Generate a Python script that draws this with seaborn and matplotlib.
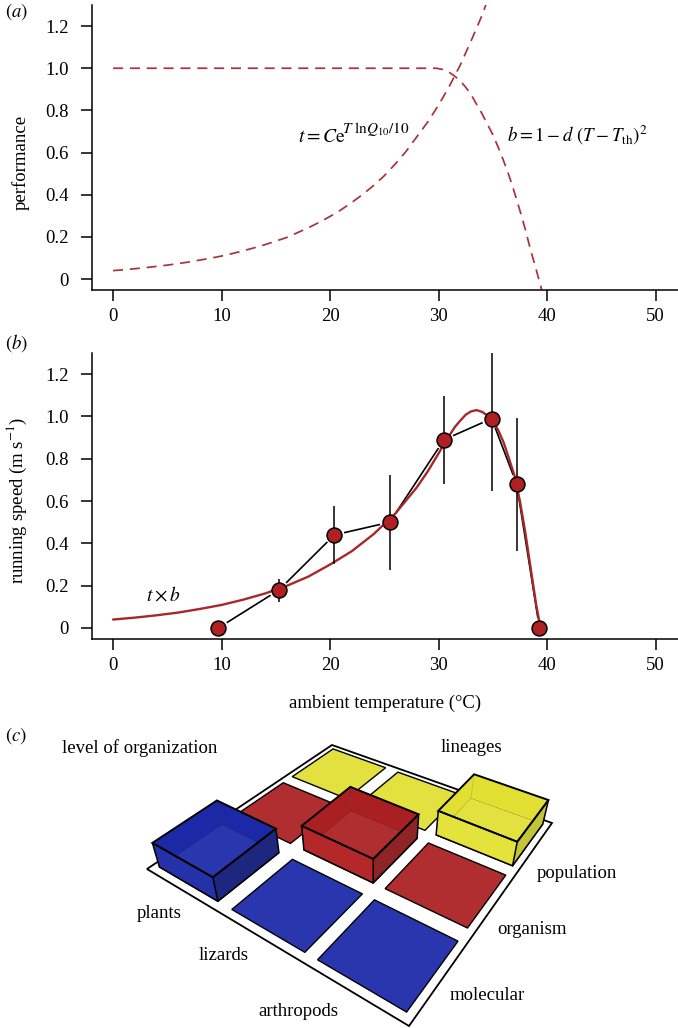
import numpy as np
import pandas as pd
import matplotlib
matplotlib.use('Agg')
import matplotlib.pyplot as plt
from matplotlib.patches import Polygon
import seaborn as sns

# curves
t_temp = list(range(0, 36))
t_perf = [0.040, 0.044, 0.049, 0.054, 0.060, 0.066, 0.073, 0.081, 0.090, 0.099,
          0.109, 0.121, 0.134, 0.148, 0.163, 0.180, 0.197, 0.220, 0.243, 0.269,
          0.297, 0.328, 0.363, 0.401, 0.443, 0.490, 0.545, 0.605, 0.675, 0.745,
          0.825, 0.915, 1.015, 1.13, 1.25, 1.39]
b_temp = [0, 10, 20, 29, 29.8, 30.5, 31, 31.5, 32, 32.5, 33, 33.5, 34, 34.5, 35, 35.5,
          36, 36.5, 37, 37.5, 38, 38.5, 39, 39.5]
b_perf = [1.0, 1.0, 1.0, 1.0, 1.0, 0.993, 0.98, 0.962, 0.94, 0.91, 0.875, 0.83, 0.785,
          0.735, 0.685, 0.625, 0.56, 0.49, 0.41, 0.325, 0.235, 0.135, 0.045, -0.05]
fit_temp = [0, 2, 4, 6, 8, 10, 12, 14, 16, 18, 20, 22, 24, 26, 28, 29, 30, 30.5, 31, 31.5,
            32, 32.5, 33, 33.5, 34, 34.5, 35, 35.5, 36, 36.5, 37, 37.5, 38, 38.5, 39, 39.4]
fit_speed = [0.04, 0.049, 0.06, 0.073, 0.09, 0.109, 0.134, 0.163, 0.199, 0.243, 0.30, 0.363,
             0.443, 0.54, 0.665, 0.74, 0.825, 0.87, 0.91, 0.95, 0.98, 1.008, 1.024, 1.03,
             1.022, 1.005, 0.98, 0.935, 0.877, 0.80, 0.72, 0.60, 0.45, 0.28, 0.11, 0.0]

# running speed
obs_temp = [9.7, 15.3, 20.4, 25.5, 30.5, 34.9, 37.2, 39.3]
obs_speed = [0.0, 0.18, 0.44, 0.50, 0.89, 0.99, 0.68, 0.0]
obs_low = [0.0, 0.125, 0.303, 0.275, 0.682, 0.646, 0.362, 0.0]
obs_high = [0.0, 0.232, 0.575, 0.722, 1.096, 1.30, 0.995, 0.0]

# panel c
levels = ['molecular', 'organism', 'population']
lineages = ['plants', 'lizards', 'arthropods']
level_colours = ['#2a36ad', '#b02e2f', '#e2e13f']
back_colours = ['#1c29a6', '#aa2022', '#e0df32']
front_colours = ['#2431a8', '#b4282a', '#e4e33c']
side_colours = ['#1d2780', '#8e2426', '#c4c438']
box_cells = [(2, 2), (1, 1), (0, 0)]  # (level, lineage), back to front

x_ticks = [0, 10, 20, 30, 40, 50]
y_ticks = [0, 0.2, 0.4, 0.6, 0.8, 1.0, 1.2]
y_tick_labels = ['0', '0.2', '0.4', '0.6', '0.8', '1.0', '1.2']

sns.set_style('ticks')
plt.rcParams['font.family'] = ['Liberation Serif', 'DejaVu Serif']
plt.rcParams['mathtext.fontset'] = 'stix'
plt.rcParams['text.color'] = 'black'
plt.rcParams['axes.labelcolor'] = 'black'
plt.rcParams['xtick.color'] = 'black'
plt.rcParams['ytick.color'] = 'black'

W, H = 678, 1028
fs = 13.5
fig = plt.figure(figsize=(W / 100, H / 100), dpi=100)


def make_axes(top, bottom):
    # pixel box -> figure fraction
    ax = fig.add_axes([92 / W, 1 - bottom / H, (W - 92) / W, (bottom - top) / H])
    ax.set_xlim(-1.94, 52.07)
    ax.set_ylim(-0.052, 1.3)
    ax.set_xticks(x_ticks)
    ax.set_yticks(y_ticks)
    ax.set_yticklabels(y_tick_labels)
    ax.tick_params(length=8, width=1.1, labelsize=fs)
    ax.tick_params(axis='y', pad=8.5)
    ax.tick_params(axis='x', pad=5)
    for s in ['left', 'bottom']:
        ax.spines[s].set_linewidth(1.1)
        ax.spines[s].set_color('black')
    sns.despine(ax=ax)
    return ax


ax_a = make_axes(5, 290)
ax_b = make_axes(353, 639)

dash_col = '#a8343a'
dash_style = (0, (5.8, 3.9))
sns.lineplot(x=t_temp, y=t_perf, ax=ax_a, color=dash_col, lw=1.25, linestyle=dash_style, sort=False)
sns.lineplot(x=b_temp, y=b_perf, ax=ax_a, color=dash_col, lw=1.25, linestyle=dash_style, sort=False)
ax_a.set_ylabel('performance', fontsize=fs)
ax_a.yaxis.set_label_coords(-0.107, 0.446)

obs = pd.DataFrame({'temp': obs_temp, 'speed': obs_speed})
sns.lineplot(data=obs, x='temp', y='speed', ax=ax_b, color='black', lw=1.2, zorder=2)
# white ring gives the gap between line and marker
sns.scatterplot(data=obs, x='temp', y='speed', ax=ax_b, s=205, color='white', edgecolor='none', zorder=3, clip_on=False)
sns.lineplot(x=fit_temp, y=fit_speed, ax=ax_b, color='#a8272d', lw=1.7, zorder=4, sort=False)
ax_b.vlines(obs_temp, obs_low, obs_high, color='black', lw=1.1, zorder=5)
sns.scatterplot(data=obs, x='temp', y='speed', ax=ax_b, s=115, color='#b02023', edgecolor='black', linewidth=1.1, zorder=6, clip_on=False)
ax_b.set_ylabel('running speed (m s$^{-1}$)', fontsize=fs)
ax_b.yaxis.set_label_coords(-0.107, 0.486)
ax_b.set_xlabel('ambient temperature (°C)', fontsize=fs, labelpad=15)

# overlay in pixel coordinates for the letters and the board
ov = fig.add_axes([0, 0, 1, 1])
ov.set_xlim(0, W)
ov.set_ylim(H, 0)
ov.axis('off')
ov.patch.set_alpha(0)

ov.text(5, 12, '$(a)$', fontsize=fs, va='center')
ov.text(5, 343, '$(b)$', fontsize=fs, va='center')
ov.text(5, 736, '$(c)$', fontsize=fs, va='center')
ov.text(298, 137, r'$t = C\mathrm{e}$', fontsize=14, va='center')
ov.text(342, 129, r'$T\ \mathrm{ln}Q_{10}/10$', fontsize=11, va='center')
ov.text(507, 135, r'$b = 1 - d\ (T - T_{\mathrm{th}})^2$', fontsize=fs, va='center')
ov.text(146, 595, r'$t \times b$', fontsize=14, va='center')

# floor plane: unit square -> board corners
board = np.array([[147, 869], [409, 1026], [552, 823], [332, 745]], dtype=float)
unit = np.array([[0, 0], [1, 0], [1, 1], [0, 1]], dtype=float)
A, rhs = [], []
for (u, v), (px, py) in zip(unit, board):
    A.append([u, v, 1, 0, 0, 0, -u * px, -v * px])
    A.append([0, 0, 0, u, v, 1, -u * py, -v * py])
    rhs += [px, py]
hom = np.append(np.linalg.solve(np.array(A), np.array(rhs)), 1).reshape(3, 3)


def floor(u, v):
    p = hom @ np.array([u, v, 1.0])
    return p[:2] / p[2]


def lift(p):
    return p + np.array([0.033 * (p[0] - 371), -24.0])


u_edges = [(0.025, 0.30), (0.36, 0.645), (0.69, 0.975)]
v_edges = [(0.03, 0.31), (0.37, 0.645), (0.70, 0.975)]


def cell_corners(level, lineage):
    u0, u1 = u_edges[lineage]
    v0, v1 = v_edges[level]
    # left, front, right, back as seen on the page
    return [floor(u0, v0), floor(u1, v0), floor(u1, v1), floor(u0, v1)]


ov.add_patch(Polygon(board, closed=True, fc='white', ec='black', lw=1.3, zorder=1))
for i in range(len(levels)):
    for j in range(len(lineages)):
        ov.add_patch(Polygon(cell_corners(i, j), closed=True, fc=level_colours[i], ec='black', lw=1.0, zorder=2))

z = 3
for i, j in box_cells:
    f = cell_corners(i, j)
    tp = [lift(p) for p in f]
    # back walls, slightly darker than the floor
    ov.add_patch(Polygon([f[0], f[3], tp[3], tp[0]], closed=True, fc=back_colours[i], ec='none', zorder=z))
    ov.add_patch(Polygon([f[3], f[2], tp[2], tp[3]], closed=True, fc=back_colours[i], ec='none', zorder=z))
    ov.add_patch(Polygon(f, closed=True, fc=level_colours[i], ec='none', zorder=z))
    ov.plot([f[3][0], tp[3][0]], [f[3][1], tp[3][1]], color=side_colours[i], lw=0.7, zorder=z)
    # front walls
    ov.add_patch(Polygon([f[0], f[1], tp[1], tp[0]], closed=True, fc=front_colours[i], ec='none', zorder=z))
    ov.add_patch(Polygon([f[1], f[2], tp[2], tp[1]], closed=True, fc=side_colours[i], ec='none', zorder=z))
    ov.add_patch(Polygon(tp, closed=True, fc='none', ec='black', lw=1.4, zorder=z))
    ov.add_patch(Polygon([f[0], f[1], f[2], tp[2], tp[1], tp[0]], closed=True, fc='none', ec='black', lw=1.1, zorder=z))
    ov.plot([f[1][0], tp[1][0]], [f[1][1], tp[1][1]], color='black', lw=1.1, zorder=z)
    z += 1

ov.text(62, 748, 'level of organization', fontsize=fs, va='center')
ov.text(471, 748, 'lineages', fontsize=fs, va='center', ha='center')
label_pos_level = [(487, 996), (532, 930), (577, 873)]
label_pos_lineage = [(159, 914), (224, 956), (298, 1012)]
for name, (x, y) in zip(levels, label_pos_level):
    ov.text(x, y, name, fontsize=fs, va='center', ha='center')
for name, (x, y) in zip(lineages, label_pos_lineage):
    ov.text(x, y, name, fontsize=fs, va='center', ha='center')

fig.savefig('out.png', dpi=100)
